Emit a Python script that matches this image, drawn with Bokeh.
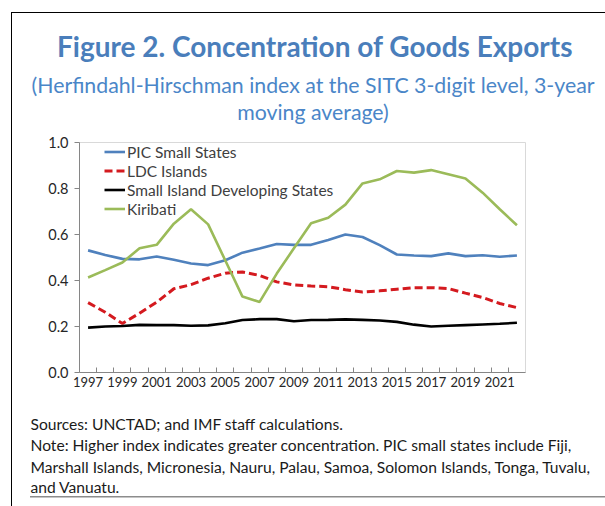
from bokeh.plotting import figure
from bokeh.models import (Label, FixedTicker, Range1d, Legend, LegendItem,
                          ColumnDataSource, CustomJSTickFormatter, InlineStyleSheet)
from bokeh.embed import file_html
from bokeh.resources import INLINE

years = list(range(1997, 2023))
pic_small_states = [0.531, 0.511, 0.494, 0.492, 0.504, 0.490, 0.474, 0.467, 0.488, 0.521, 0.539,
                    0.559, 0.555, 0.555, 0.576, 0.600, 0.589, 0.554, 0.513, 0.509, 0.506, 0.518,
                    0.506, 0.510, 0.503, 0.509]
ldc_islands = [0.304, 0.262, 0.213, 0.258, 0.306, 0.364, 0.382, 0.410, 0.432, 0.437, 0.422,
               0.394, 0.381, 0.376, 0.373, 0.360, 0.350, 0.355, 0.362, 0.369, 0.369, 0.365,
               0.345, 0.326, 0.300, 0.282]
sids = [0.195, 0.200, 0.202, 0.207, 0.206, 0.206, 0.203, 0.205, 0.214, 0.228, 0.232, 0.232,
        0.223, 0.228, 0.229, 0.231, 0.229, 0.226, 0.220, 0.208, 0.200, 0.203, 0.206, 0.209,
        0.212, 0.216]
kiribati = [0.413, 0.445, 0.478, 0.540, 0.555, 0.647, 0.710, 0.644, 0.487, 0.330, 0.307, 0.430,
            0.540, 0.649, 0.673, 0.730, 0.822, 0.840, 0.876, 0.869, 0.880, 0.862, 0.843, 0.782,
            0.710, 0.640]
y_ticks = [0.0, 0.2, 0.4, 0.6, 0.8, 1.0]
x_label_years = list(range(1997, 2022, 2))

title = "Figure 2. Concentration of Goods Exports"
subtitle1 = "(Herfindahl-Hirschman index at the SITC 3-digit level, 3-year"
subtitle2 = "moving average)"
footer = ["Sources: UNCTAD; and IMF staff calculations.",
          "Note: Higher index indicates greater concentration. PIC small states include Fiji,",
          "Marshall Islands, Micronesia, Nauru, Palau, Samoa, Solomon Islands, Tonga, Tuvalu,",
          "and Vanuatu."]

FONT = "Lato"
W, H = 605, 506
ML, MR, MT, MB = 79, 80, 142, 134

p = figure(width=W, height=H, output_backend="svg", toolbar_location=None,
           x_range=Range1d(1996.5, 2022.5), y_range=Range1d(0, 1.0),
           min_border_left=ML, min_border_right=MR, min_border_top=MT, min_border_bottom=MB)
p.xgrid.visible = False
p.ygrid.visible = False
p.outline_line_color = "#d9d9d9"

src = ColumnDataSource(dict(x=years, pic=pic_small_states, ldc=ldc_islands, sids=sids, kir=kiribati))
r1 = p.line("x", "pic", source=src, line_color="#4f81bd", line_width=2.6)
r2 = p.line("x", "ldc", source=src, line_color="#d41a1f", line_width=3, line_dash="8 4")
r3 = p.line("x", "sids", source=src, line_color="#000000", line_width=2.6)
r4 = p.line("x", "kir", source=src, line_color="#9bbb59", line_width=2.6)

xa = p.xaxis[0]
xa.ticker = FixedTicker(ticks=x_label_years, minor_ticks=[y + 0.5 for y in years[:-1]])
xa.major_tick_in = 0
xa.major_tick_out = 0
xa.minor_tick_in = 5
xa.minor_tick_out = 0
xa.minor_tick_line_color = "#868686"
xa.axis_line_color = "#868686"
xa.major_label_text_font = FONT
xa.major_label_text_font_size = "13px"
xa.major_label_text_color = "#262626"
xa.major_label_standoff = 4

ya = p.yaxis[0]
ya.ticker = FixedTicker(ticks=y_ticks)
ya.formatter = CustomJSTickFormatter(code="return tick.toFixed(1);")
ya.major_tick_in = 0
ya.major_tick_out = 5
ya.minor_tick_in = 0
ya.minor_tick_out = 0
ya.major_tick_line_color = "#868686"
ya.axis_line_color = "#868686"
ya.major_label_text_font = FONT
ya.major_label_text_font_size = "14.5px"
ya.major_label_text_color = "#262626"
ya.major_label_standoff = 6

legend = Legend(items=[LegendItem(label="PIC Small States", renderers=[r1]),
                       LegendItem(label="LDC Islands", renderers=[r2]),
                       LegendItem(label="Small Island Developing States", renderers=[r3]),
                       LegendItem(label="Kiribati", renderers=[r4])],
                location=(25, 154), orientation="vertical",
                glyph_width=21, glyph_height=19, label_height=19, spacing=0,
                padding=0, margin=0, label_standoff=2,
                border_line_color=None, background_fill_alpha=0,
                label_text_font=FONT, label_text_font_size="15.5px", label_text_color="#404040")
p.add_layout(legend, "center")

# Texts in side panels (panel-relative screen units; each label occupies its own stacked panel)
def side_label(txt, x, y, size, color, side, align="center", style="normal"):
    p.add_layout(Label(x=x, y=y, x_units="screen", y_units="screen", text=txt,
                       text_font=FONT, text_font_size=size, text_color=color,
                       text_align=align, text_baseline="middle", text_font_style=style), side)

# above: stacked outward from the plot frame
side_label(subtitle2, 233.5, 31, "21.3px", "#4a86c8", "above")
side_label(subtitle1, 233.5, 31.5, "21.3px", "#4a86c8", "above")
side_label(title, 235.5, 45, "28px", "#4a7ebb", "above", style="bold")
# below: stacked after the x axis
for txt, yy in zip(footer, [-16.6, -19.6, -23.6, -25.8]):
    side_label(txt, -49, yy, "15.6px", "#1a1a1a", "below", align="left")

# outer frame lines of the exhibit box
p.stylesheets = [InlineStyleSheet(css=(
    ":host::after {content: ''; position: absolute; left: 11px; top: 12px; width: 594px; height: 494px;"
    " border-left: 1.5px solid #000; border-top: 1.5px solid #000; box-sizing: border-box;"
    " pointer-events: none;"
    " background: linear-gradient(#8c8c8c, #8c8c8c) no-repeat 18px 483px / 580px 1.5px;}"
))]

open("out.html", "w").write(file_html(p, INLINE))
